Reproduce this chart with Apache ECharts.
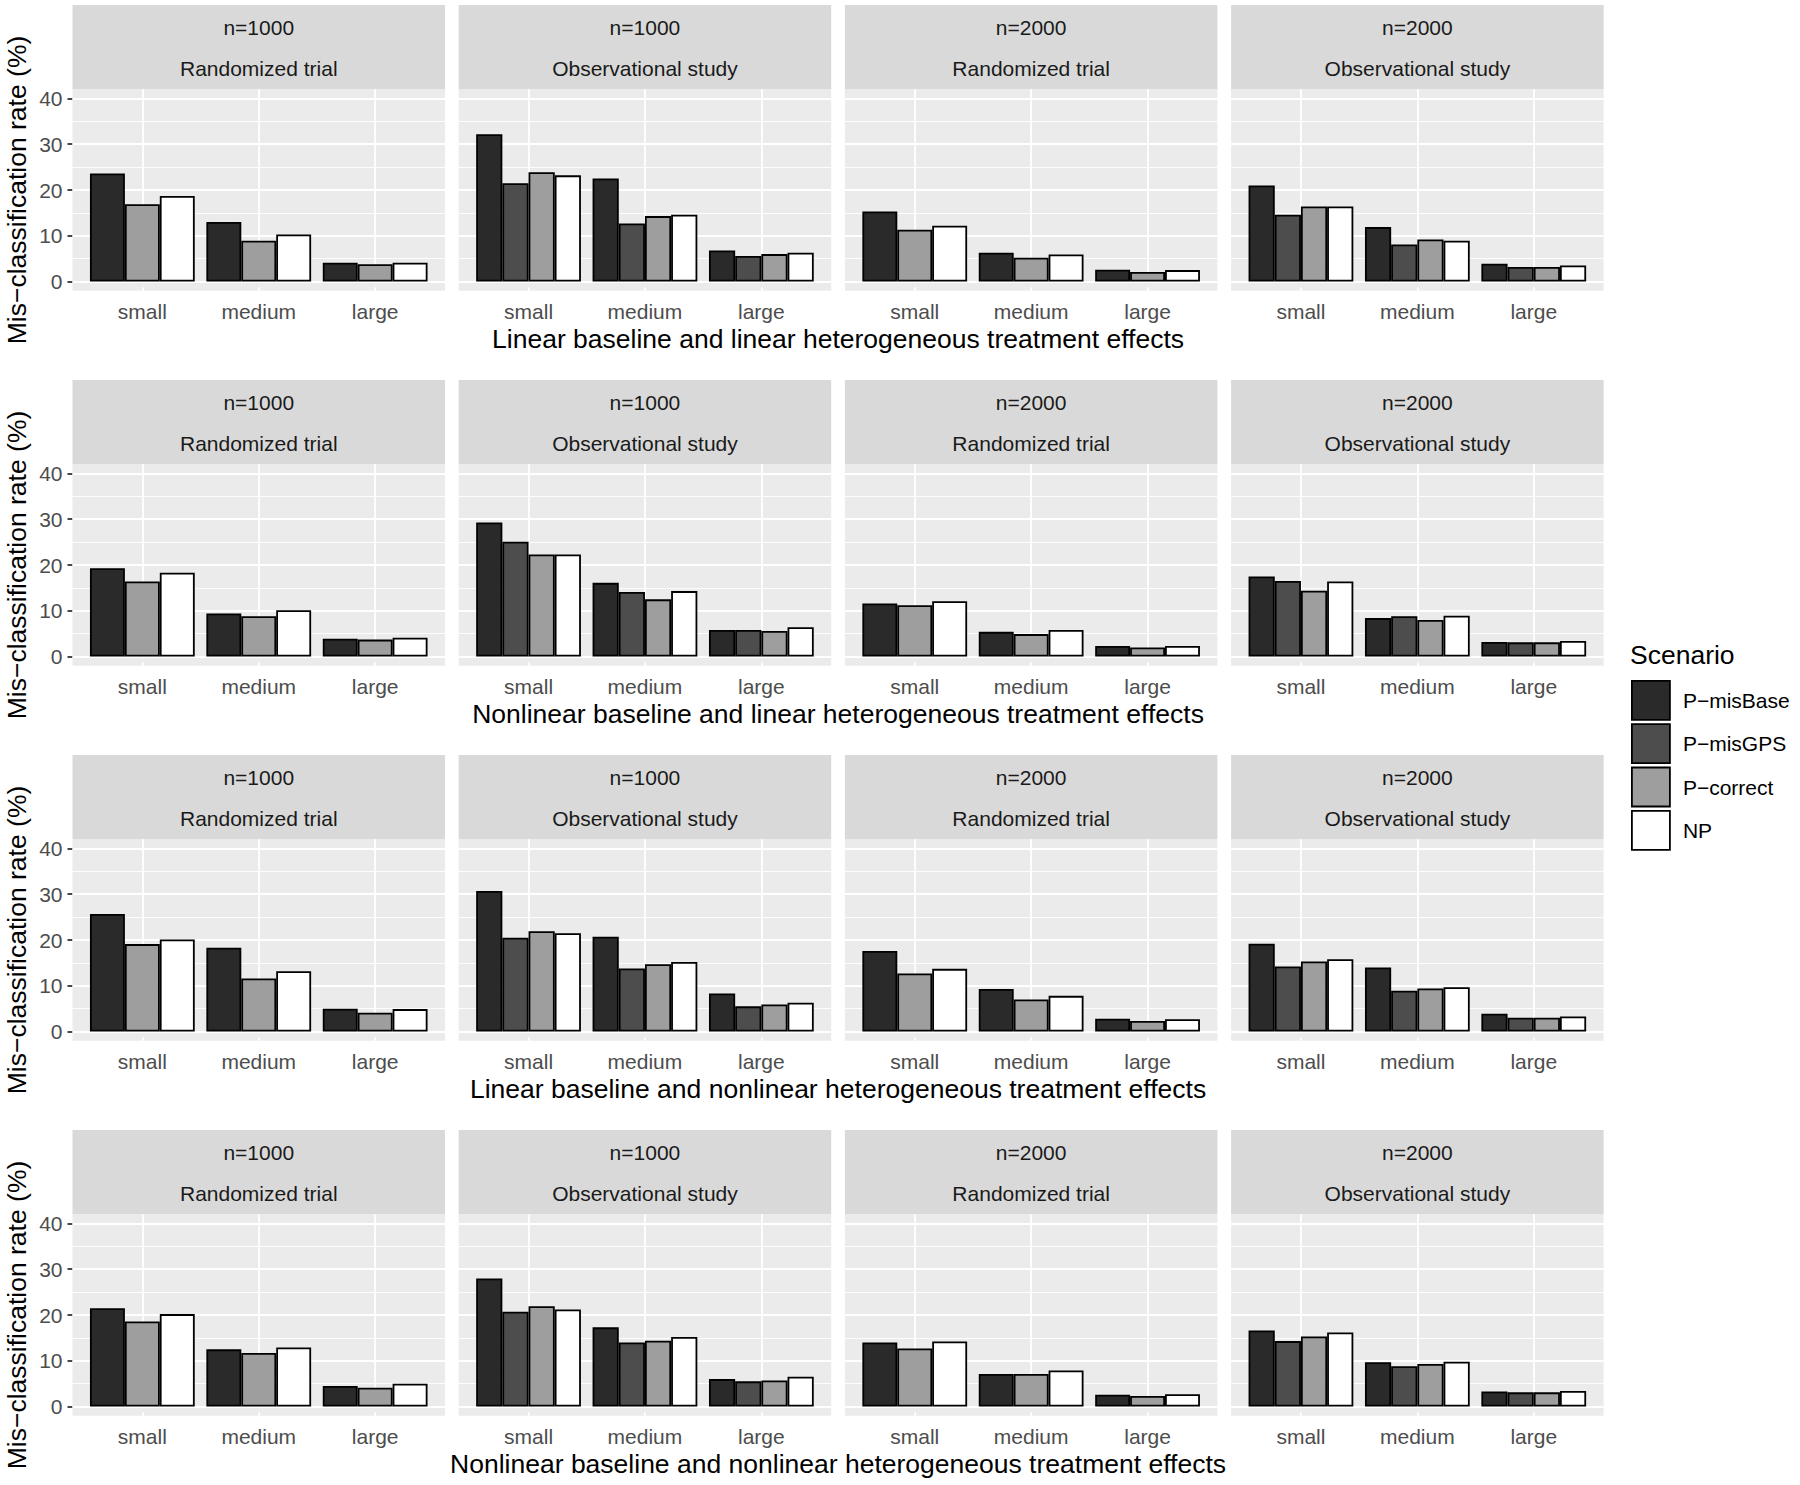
<!DOCTYPE html>
<html><head><meta charset="utf-8">
<script src="https://cdn.jsdelivr.net/npm/echarts@6/dist/echarts.min.js"></script>
<style>html,body{margin:0;padding:0;background:#fff}#c{width:1800px;height:1485px}</style>
</head><body><div id="c"></div>
<script>
// ---------- data ----------
const sizes = ['small', 'medium', 'large'];
const sizePos = [1, 2, 3];
const yMajor = [0, 10, 20, 30, 40];
const yMinor = [5, 15, 25, 35];
const scenarios = ['P−misBase', 'P−misGPS', 'P−correct', 'NP'];
const panelN = ['n=1000', 'n=1000', 'n=2000', 'n=2000'];
const panelDesign = ['Randomized trial', 'Observational study', 'Randomized trial', 'Observational study'];
const rowTitles = [
  'Linear baseline and linear heterogeneous treatment effects',
  'Nonlinear baseline and linear heterogeneous treatment effects',
  'Linear baseline and nonlinear heterogeneous treatment effects',
  'Nonlinear baseline and nonlinear heterogeneous treatment effects'
];
const yTitle = 'Mis−classification rate (%)';
const legendTitle = 'Scenario';

// each array: 4 panels x (small, medium, large); null = scenario absent in panel
const linLin_misBase = [23.6, 13.0, 4.1, 32.2, 22.5, 6.8, 15.3, 6.3, 2.6, 21.0, 11.9, 3.9];
const linLin_misGPS  = [null, null, null, 21.5, 12.7, 5.6, null, null, null, 14.6, 8.1, 3.2];
const linLin_correct = [16.9, 8.9, 3.8, 23.9, 14.3, 6.0, 11.3, 5.2, 2.1, 16.4, 9.2, 3.2];
const linLin_np      = [18.7, 10.3, 4.1, 23.2, 14.6, 6.3, 12.2, 5.9, 2.5, 16.4, 8.9, 3.5];

const nonlinLin_misBase = [19.3, 9.4, 3.9, 29.3, 16.1, 5.8, 11.6, 5.4, 2.3, 17.5, 8.4, 3.2];
const nonlinLin_misGPS  = [null, null, null, 25.1, 14.1, 5.8, null, null, null, 16.5, 8.8, 3.1];
const nonlinLin_correct = [16.4, 8.8, 3.7, 22.3, 12.5, 5.6, 11.2, 4.9, 2.0, 14.4, 8.0, 3.1];
const nonlinLin_np      = [18.3, 10.1, 4.1, 22.3, 14.3, 6.4, 12.1, 5.8, 2.3, 16.4, 8.9, 3.4];

const linNonlin_misBase = [25.7, 18.3, 5.0, 30.7, 20.7, 8.3, 17.6, 9.3, 2.8, 19.2, 14.0, 3.9];
const linNonlin_misGPS  = [null, null, null, 20.5, 13.8, 5.5, null, null, null, 14.2, 8.9, 3.0];
const linNonlin_correct = [19.1, 11.6, 4.1, 21.9, 14.7, 5.9, 12.7, 7.0, 2.3, 15.3, 9.4, 3.0];
const linNonlin_np      = [20.1, 13.2, 4.9, 21.5, 15.2, 6.3, 13.7, 7.8, 2.7, 15.8, 9.7, 3.3];

const nonlinNonlin_misBase = [21.5, 12.5, 4.5, 28.0, 17.3, 6.0, 14.0, 7.1, 2.6, 16.6, 9.7, 3.3];
const nonlinNonlin_misGPS  = [null, null, null, 20.7, 14.0, 5.5, null, null, null, 14.3, 8.8, 3.1];
const nonlinNonlin_correct = [18.6, 11.7, 4.1, 21.9, 14.4, 5.7, 12.7, 7.1, 2.3, 15.3, 9.3, 3.1];
const nonlinNonlin_np      = [20.2, 12.9, 5.0, 21.2, 15.2, 6.5, 14.2, 7.9, 2.7, 16.2, 9.8, 3.4];

const rowsData = [
  [linLin_misBase, linLin_misGPS, linLin_correct, linLin_np],
  [nonlinLin_misBase, nonlinLin_misGPS, nonlinLin_correct, nonlinLin_np],
  [linNonlin_misBase, linNonlin_misGPS, linNonlin_correct, linNonlin_np],
  [nonlinNonlin_misBase, nonlinNonlin_misGPS, nonlinNonlin_correct, nonlinNonlin_np]
];

// ---------- styling / layout ----------
const FONT = '"Liberation Sans", Arial, Helvetica, sans-serif';
const fills = ['#2A2A2A', '#4D4D4D', '#9E9E9E', '#FFFFFF'];
const colLeft = [72.5, 458.7, 844.9, 1231.1];
const panelW = 372.5;
const rowStep = 375;
const stripTop0 = 5, stripH = 84.3, plotTop0 = 89.3, plotH = 201.4;

const grids = [], xAxes = [], yAxes = [], series = [], graphics = [];
const gl = (w) => ({ color: '#FFFFFF', type: 'solid', width: w });

for (let r = 0; r < 4; r++) {
  for (let p = 0; p < 4; p++) {
    const gi = r * 4 + p;
    const left = colLeft[p];
    const top = plotTop0 + r * rowStep;
    grids.push({
      left: left, top: top, width: panelW, height: plotH,
      show: true, backgroundColor: '#EBEBEB', borderWidth: 0, borderColor: 'transparent',
      outerBoundsMode: 'none', containLabel: false
    });
    xAxes.push({
      type: 'value', gridIndex: gi, min: 0.4, max: 3.6,
      axisLine: { show: false },
      splitLine: { show: false },
      axisTick: { show: true, customValues: sizePos, length: 6, lineStyle: { color: '#333333', width: 1.8 } },
      axisLabel: {
        show: true, customValues: sizePos, margin: 10,
        formatter: v => sizes[sizePos.indexOf(Math.round(v))],
        fontSize: 21, fontFamily: FONT, color: '#4D4D4D'
      }
    });
    yAxes.push({
      type: 'value', gridIndex: gi, min: -2, max: 42,
      axisLine: { show: false },
      splitLine: { show: false },
      axisTick: { show: p === 0, customValues: yMajor, length: 5, lineStyle: { color: '#333333', width: 1.8 } },
      axisLabel: {
        show: p === 0, customValues: yMajor, margin: 10,
        fontSize: 21, fontFamily: FONT, color: '#4D4D4D'
      }
    });

    // gridlines (panel grid) drawn through the panel's own axes
    series.push({
      type: 'line', name: 'grid' + gi, xAxisIndex: gi, yAxisIndex: gi, data: [],
      silent: true, z: 1,
      markLine: {
        silent: true, z: 1, symbol: ['none', 'none'],
        label: { show: false }, emphasis: { disabled: true },
        lineStyle: gl(1.8),
        data: [
          ...yMinor.map(v => ({ yAxis: v, lineStyle: gl(0.9) })),
          ...yMajor.map(v => ({ yAxis: v, lineStyle: gl(1.8) })),
          ...sizePos.map(v => ({ xAxis: v, lineStyle: gl(1.8) }))
        ]
      }
    });

    for (let s = 0; s < 4; s++) {
      const vals = rowsData[r][s].slice(p * 3, p * 3 + 3);
      if (vals.every(v => v == null)) continue;
      series.push({
        type: 'bar', name: scenarios[s], xAxisIndex: gi, yAxisIndex: gi,
        data: vals.map((v, i) => [sizePos[i], v]),
        barCategoryGap: '10%', barGap: '0%',
        itemStyle: { color: fills[s], borderColor: '#000000', borderWidth: 1.8 },
        emphasis: { disabled: true },
        z: 2
      });
    }

    // strip
    const sTop = stripTop0 + r * rowStep;
    graphics.push({ type: 'rect', silent: true, shape: { x: left, y: sTop, width: panelW, height: stripH }, style: { fill: '#D9D9D9' } });
    graphics.push({ type: 'text', silent: true, x: left + panelW / 2, y: sTop + 22,
      style: { text: panelN[p], fontSize: 21, fontFamily: FONT, fill: '#1A1A1A', align: 'center', verticalAlign: 'middle' } });
    graphics.push({ type: 'text', silent: true, x: left + panelW / 2, y: sTop + 63,
      style: { text: panelDesign[p], fontSize: 21, fontFamily: FONT, fill: '#1A1A1A', align: 'center', verticalAlign: 'middle' } });
  }
  // row axis titles
  graphics.push({ type: 'text', silent: true, x: 17, y: plotTop0 + plotH / 2 + r * rowStep, rotation: Math.PI / 2,
    style: { text: yTitle, fontSize: 26.5, fontFamily: FONT, fill: '#000000', align: 'center', verticalAlign: 'middle' } });
  graphics.push({ type: 'text', silent: true, x: (colLeft[0] + colLeft[3] + panelW) / 2, y: 339 + r * rowStep,
    style: { text: rowTitles[r], fontSize: 26.5, fontFamily: FONT, fill: '#000000', align: 'center', verticalAlign: 'middle' } });
}

graphics.push({ type: 'text', silent: true, x: 1630, y: 655,
  style: { text: legendTitle, fontSize: 26.5, fontFamily: FONT, fill: '#000000', align: 'left', verticalAlign: 'middle' } });

const chart = echarts.init(document.getElementById('c'), null, { renderer: 'svg', width: 1800, height: 1485 });
chart.setOption({
  animation: false,
  backgroundColor: '#FFFFFF',
  textStyle: { fontFamily: FONT },
  grid: grids,
  xAxis: xAxes,
  yAxis: yAxes,
  series: series,
  legend: {
    data: scenarios, orient: 'vertical', left: 1631, top: 680, padding: 0,
    icon: 'rect', itemWidth: 38, itemHeight: 39, itemGap: 2.5,
    itemStyle: { borderColor: '#000000', borderWidth: 1.8 },
    textStyle: { fontSize: 21, fontFamily: FONT, color: '#000000', padding: [0, 0, 0, 8] },
    selectedMode: false
  },
  graphic: graphics
});
</script>
</body></html>
